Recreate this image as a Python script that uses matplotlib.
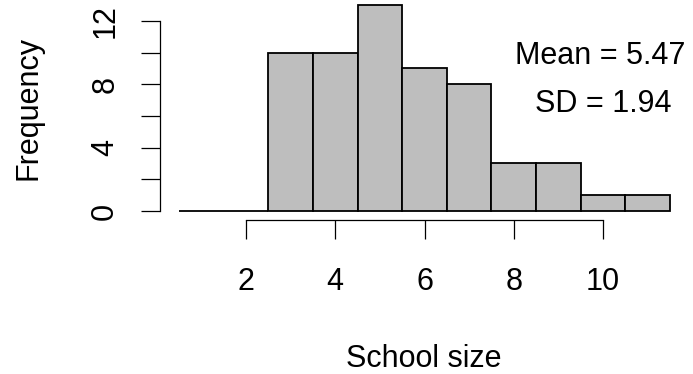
import matplotlib
matplotlib.use("Agg")
import matplotlib.pyplot as plt
import numpy as np

plt.rcParams['font.family'] = ['Liberation Sans', 'DejaVu Sans']

# Data
bin_edges = [0.5, 1.5, 2.5, 3.5, 4.5, 5.5, 6.5, 7.5, 8.5, 9.5, 10.5, 11.5]
counts = [0, 0, 10, 10, 13, 9, 8, 3, 3, 1, 1]
x_ticks = [2, 4, 6, 8, 10]
y_ticks = [0, 2, 4, 6, 8, 10, 12]
y_tick_labels = ['0', '', '4', '', '8', '', '12']
mean_text = "Mean = 5.47"
sd_text = "SD = 1.94"
x_label = "School size"
y_label = "Frequency"

W, H = 693, 374
dpi = 100
fig = plt.figure(figsize=(W / dpi, H / dpi), dpi=dpi)

def px2fig(x, y):
    return x / W, (H - y) / H

left, top = 179, 5
right, bottom = 670, 211
ax = fig.add_axes([left / W, (H - bottom) / H, (right - left) / W, (bottom - top) / H])

edges = np.array(bin_edges)
centers = (edges[:-1] + edges[1:]) / 2
widths = np.diff(edges)
ax.bar(centers, counts, width=widths, color='#BEBEBE', edgecolor='black', linewidth=1.3, clip_on=False)

ax.set_xlim(bin_edges[0], bin_edges[-1])
ax.set_ylim(0, 13)

fs = 22
ax.spines['top'].set_visible(False)
ax.spines['right'].set_visible(False)
ax.spines['left'].set_position(('outward', 19 * 0.72))
ax.spines['bottom'].set_position(('outward', 9 * 0.72))
ax.spines['left'].set_bounds(0, 12)
ax.spines['bottom'].set_bounds(2, 10)
for s in ['left', 'bottom']:
    ax.spines[s].set_linewidth(0.9)

ax.set_xticks(x_ticks)
ax.set_xticklabels([str(t) for t in x_ticks], fontsize=fs)
ax.set_yticks(y_ticks)
ax.set_yticklabels(y_tick_labels, fontsize=fs, rotation=90, va='center')
ax.tick_params(axis='both', length=19 * 0.72, width=0.9, direction='out')
ax.tick_params(axis='x', pad=20)
ax.tick_params(axis='y', pad=15)

fig.text(*px2fig(424, 367), x_label, ha='center', va='baseline', fontsize=fs)
fig.text(*px2fig(29, 108), y_label, ha='center', va='center', rotation=90, fontsize=fs)
fig.text(*px2fig(600, 64), mean_text, ha='center', va='baseline', fontsize=fs)
fig.text(*px2fig(603, 112), sd_text, ha='center', va='baseline', fontsize=fs)

fig.savefig("out.png", dpi=dpi)
